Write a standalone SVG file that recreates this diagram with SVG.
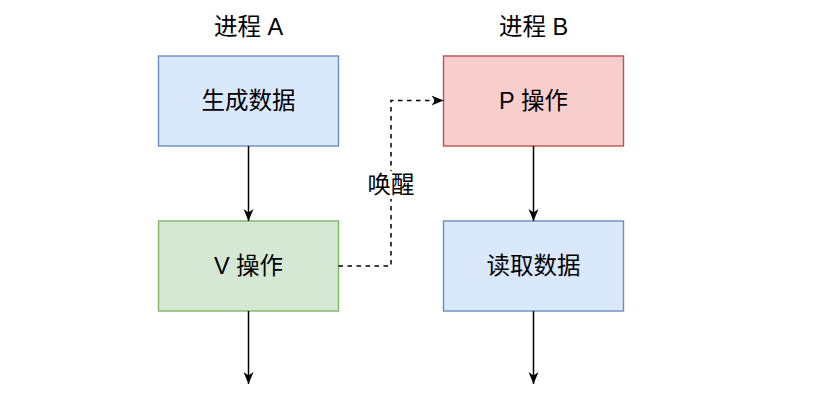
<svg xmlns="http://www.w3.org/2000/svg" width="826" height="406" viewBox="0 0 826 406">
<style>
text{font-family:"Liberation Sans","Noto Sans CJK SC",sans-serif;font-size:23.5px;fill:#000;text-anchor:middle;dominant-baseline:central}
.blue{fill:#dae8fc;stroke:#6c8ebf;stroke-width:1.4}
.green{fill:#d5e8d4;stroke:#82b366;stroke-width:1.4}
.red{fill:#f8cecc;stroke:#b85450;stroke-width:1.4}
.ln{fill:none;stroke:#000;stroke-width:1.5}
.dash{stroke-dasharray:4.5 4.5}
</style>
<defs>
<marker id="ah" viewBox="0 0 12 12" refX="12" refY="6" markerWidth="12" markerHeight="12" markerUnits="userSpaceOnUse" orient="auto">
<path d="M0,1 L12,6 L0,11 L3.5,6 Z" fill="#000"/>
</marker>
</defs>
<g id="titleA"><text x="248.5" y="27">进程 A</text></g>
<g id="titleB"><text x="533.5" y="27">进程 B</text></g>
<g id="gen"><rect class="blue" x="158.5" y="56" width="180" height="90"/><text x="248.5" y="101">生成数据</text></g>
<g id="v"><rect class="green" x="158.5" y="221" width="180" height="90"/><text x="248.5" y="266">V 操作</text></g>
<g id="p"><rect class="red" x="443.5" y="56" width="180" height="90"/><text x="533.5" y="101">P 操作</text></g>
<g id="read"><rect class="blue" x="443.5" y="221" width="180" height="90"/><text x="533.5" y="266">读取数据</text></g>
<g id="connectors">
<path class="ln" d="M248.5,146 V221" marker-end="url(#ah)"/>
<path class="ln" d="M248.5,311 V384" marker-end="url(#ah)"/>
<path class="ln" d="M533.5,146 V221" marker-end="url(#ah)"/>
<path class="ln" d="M533.5,311 V384" marker-end="url(#ah)"/>
<path class="ln dash" d="M338.5,266 H391 V100.5 H443.5" marker-end="url(#ah)"/>
<rect x="365" y="171" width="52" height="28" fill="#fff"/>
<text x="391" y="185">唤醒</text>
</g>
</svg>
